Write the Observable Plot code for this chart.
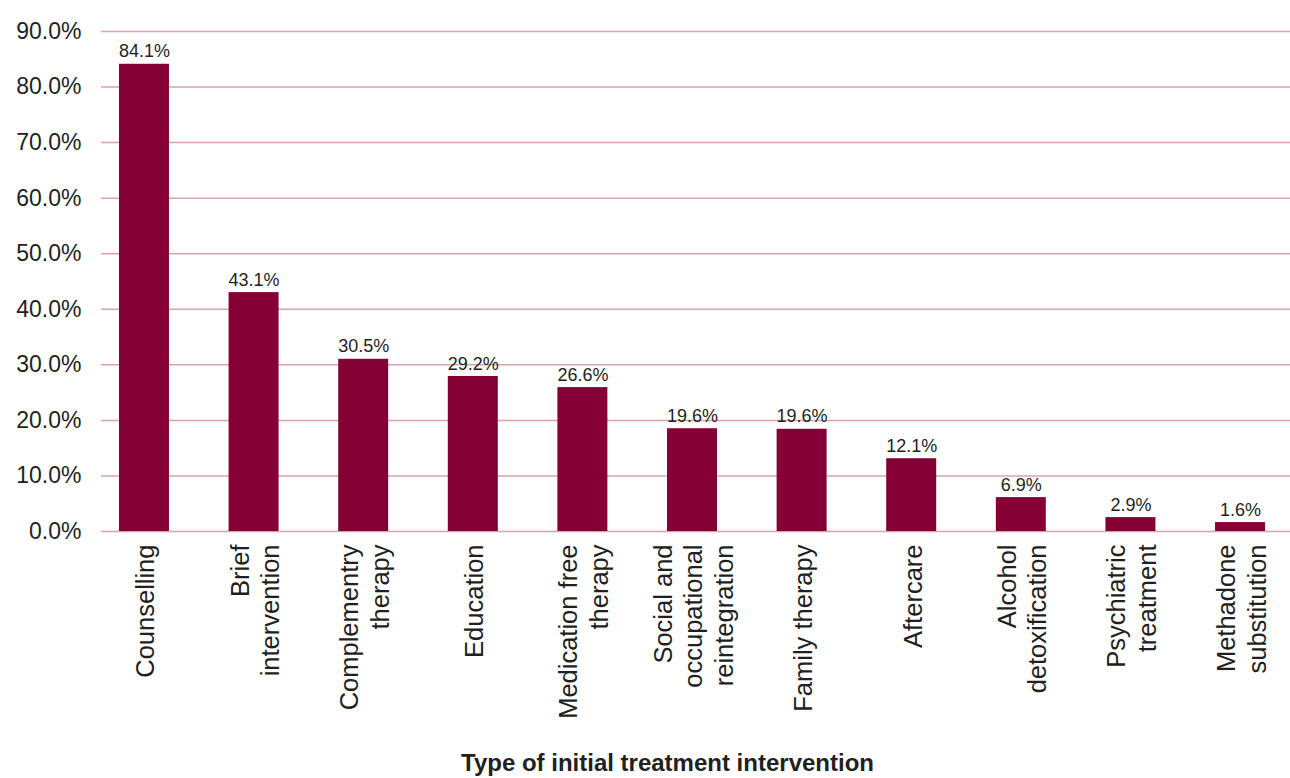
<!DOCTYPE html>
<html>
<head>
<meta charset="utf-8">
<script src="https://cdn.jsdelivr.net/npm/d3@7"></script>
<script src="https://cdn.jsdelivr.net/npm/@observablehq/plot@0.6"></script>
<style>
  html, body { margin: 0; padding: 0; background: #fff; }
  #chart svg { display: block; }
  #title { font-family: "Liberation Sans", Arial, sans-serif; font-weight: bold; font-size: 24px; color: #231f20; text-align: center; width: 1290px; padding-left: 45px; box-sizing: border-box; line-height: 26px; margin-top: 5px; }
</style>
</head>
<body>
<div id="chart"></div>
<div id="title">Type of initial treatment intervention</div>
<script>
const categories = [
  "Counselling",
  "Brief\nintervention",
  "Complementry\ntherapy",
  "Education",
  "Medication free\ntherapy",
  "Social and\noccupational\nreintegration",
  "Family therapy",
  "Aftercare",
  "Alcohol\ndetoxification",
  "Psychiatric\ntreatment",
  "Methadone\nsubstitution"
];
// bar heights as drawn in the picture (%)
const barValues = [84.1, 43.0, 31.0, 27.9, 25.9, 18.5, 18.4, 13.1, 6.1, 2.5, 1.6];
// printed data labels
const valueLabels = ["84.1%", "43.1%", "30.5%", "29.2%", "26.6%", "19.6%", "19.6%", "12.1%", "6.9%", "2.9%", "1.6%"];
const yTicks = [0, 10, 20, 30, 40, 50, 60, 70, 80, 90];

const data = categories.map((c, i) => ({cat: c, value: barValues[i], label: valueLabels[i]}));

const chart = Plot.plot({
  width: 1290,
  height: 745,
  marginTop: 31,
  marginBottom: 214,
  marginLeft: 101,
  marginRight: 0,
  style: {fontFamily: "'Liberation Sans', Arial, sans-serif", color: "#231f20", background: "#fff"},
  x: {domain: categories, range: [101, 1283], paddingInner: 0.544, paddingOuter: 0.164, round: false, axis: null},
  y: {domain: [0, 90], axis: null},
  marks: [
    Plot.ruleY(yTicks, {stroke: "#d9a3ad", strokeWidth: 1.5}),
    Plot.text(yTicks, {x: null, y: d => d, frameAnchor: "left", dx: -20, textAnchor: "end", text: d => d.toFixed(1) + "%", fontSize: 23, fill: "#231f20"}),
    Plot.barY(data, {x: "cat", y: "value", fill: "#850035"}),
    Plot.text(data, {x: "cat", y: "value", text: "label", dy: -7, lineAnchor: "bottom", fontSize: 18, fill: "#231f20"}),
    Plot.text(data, {x: "cat", y: 0, text: "cat", rotate: -90, textAnchor: "end", lineAnchor: "middle", lineHeight: 1.2, dy: 13, fontSize: 25.5, fill: "#231f20"})
  ]
});
document.getElementById("chart").appendChild(chart);
</script>
</body>
</html>
